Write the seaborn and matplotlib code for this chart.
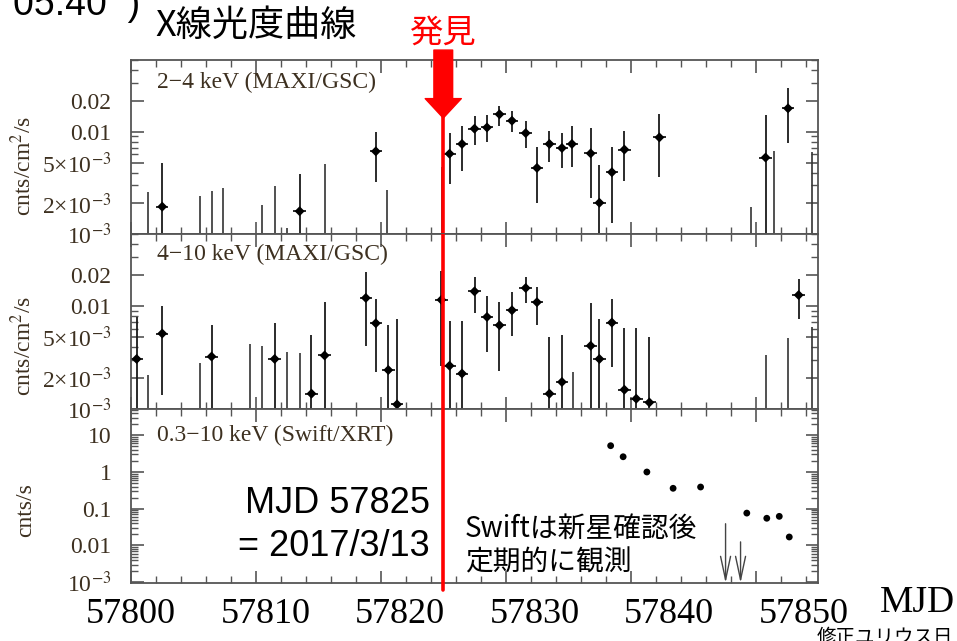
import matplotlib
matplotlib.use('Agg')
import matplotlib.pyplot as plt
from matplotlib.ticker import MultipleLocator, LogLocator, NullFormatter
import seaborn as sns
import pandas as pd
import numpy as np

# ---------------- データ ----------------
# 2-4 keV (MAXI/GSC) 検出点
mjd_24 = [57802.5, 57813.5, 57819.6, 57825.5, 57826.5, 57827.5, 57828.5, 57829.5,
          57830.5, 57831.6, 57832.5, 57833.5, 57834.5, 57835.3, 57836.8, 57837.5,
          57838.5, 57839.5, 57842.3, 57850.8, 57852.6]
rate_24 = [1.86e-3, 1.68e-3, 6.44e-3, 6.1e-3, 7.6e-3, 10.7e-3, 11.0e-3, 14.8e-3,
           12.8e-3, 9.7e-3, 4.44e-3, 7.6e-3, 6.94e-3, 7.6e-3, 6.15e-3, 2.03e-3,
           4.03e-3, 6.7e-3, 8.8e-3, 5.6e-3, 16.9e-3]
lo_24 = [1e-4, 1e-4, 3.22e-3, 3.06e-3, 4.1e-3, 7.36e-3, 7.86e-3, 11.4e-3,
         9.83e-3, 6.94e-3, 2.03e-3, 5.07e-3, 4.44e-3, 4.54e-3, 2.27e-3, 1e-4,
         1.28e-3, 3.34e-3, 3.6e-3, 1e-4, 7.7e-3]
hi_24 = [4.97e-3, 3.9e-3, 10.0e-3, 9.7e-3, 11.4e-3, 14.1e-3, 14.4e-3, 18.0e-3,
         15.8e-3, 12.6e-3, 7.1e-3, 10.07e-3, 9.7e-3, 11.3e-3, 10.9e-3, 4.78e-3,
         7.1e-3, 10.07e-3, 14.8e-3, 14.4e-3, 26.5e-3]
# 2-4 keV 範囲外の点（誤差棒の上端のみ見える）
bar_mjd_24 = [57801.4, 57805.5, 57806.5, 57807.4, 57810.5, 57811.5, 57812.5,
              57815.5, 57820.5, 57824.9, 57849.6, 57851.5, 57854.5]
bar_hi_24 = [2.61e-3, 2.39e-3, 2.63e-3, 2.84e-3, 1.91e-3, 2.94e-3, 1.16e-3,
             4.89e-3, 2.7e-3, 4.54e-3, 1.86e-3, 6.44e-3, 6.3e-3]

# 4-10 keV (MAXI/GSC)
mjd_410 = [57800.45, 57802.5, 57806.45, 57811.5, 57814.45, 57815.5, 57818.8,
           57819.6, 57820.6, 57821.3, 57824.85, 57825.5, 57826.5, 57827.5,
           57828.5, 57829.5, 57830.5, 57831.6, 57832.5, 57833.5, 57834.5,
           57836.8, 57837.5, 57838.5, 57839.5, 57840.45, 57841.5, 57853.45]
rate_410 = [3.05e-3, 5.4e-3, 3.22e-3, 3.05e-3, 1.4e-3, 3.3e-3, 12.0e-3,
            6.8e-3, 2.38e-3, 1.1e-3, 11.5e-3, 2.62e-3, 2.2e-3, 13.9e-3,
            7.83e-3, 6.5e-3, 9.1e-3, 15.0e-3, 10.9e-3, 1.4e-3, 1.82e-3,
            4.1e-3, 3.05e-3, 6.9e-3, 1.53e-3, 1.25e-3, 1.15e-3, 12.8e-3]
lo_410 = [1e-4, 1.35e-3, 1e-4, 1e-4, 1e-4, 1e-4, 4.05e-3,
          2.26e-3, 1e-4, 1e-4, 2.6e-3, 1e-4, 1e-4, 8.5e-3,
          3.56e-3, 2.34e-3, 5.1e-3, 10.6e-3, 6.5e-3, 1e-4, 1e-4,
          1e-4, 1e-4, 2.57e-3, 1e-4, 1e-4, 1e-4, 7.55e-3]
hi_410 = [7.83e-3, 10.1e-3, 6.6e-3, 6.9e-3, 5.28e-3, 11.0e-3, 21.6e-3,
          11.7e-3, 6.5e-3, 7.4e-3, 21.8e-3, 7.15e-3, 7.15e-3, 19.2e-3,
          12.4e-3, 11.0e-3, 13.7e-3, 19.2e-3, 15.3e-3, 5.0e-3, 5.28e-3,
          10.7e-3, 7.4e-3, 11.7e-3, 6.06e-3, 6.06e-3, 5.0e-3, 18.5e-3]
bar_mjd_410 = [57801.4, 57805.5, 57809.5, 57810.5, 57812.5, 57813.5, 57835.4,
               57850.8, 57852.6, 57854.5]
bar_hi_410 = [2.12e-3, 2.81e-3, 4.27e-3, 4.05e-3, 3.56e-3, 3.48e-3, 2.26e-3,
              3.3e-3, 4.9e-3, 6.3e-3]

# 0.3-10 keV (Swift/XRT)
mjd_xrt = [57838.4, 57839.4, 57841.3, 57843.4, 57845.6, 57849.3, 57850.9, 57851.9, 57852.7]
rate_xrt = [5.2, 2.6, 1.0, 0.36, 0.39, 0.076, 0.055, 0.062, 0.017]
ul_mjd_xrt = [57847.6, 57848.8]
ul_xrt = [0.039, 0.0125]

# 軸・ラベル
discovery_mjd = 57825
xlim = (57800, 57855)
xtick_vals = [57800, 57810, 57820, 57830, 57840, 57850]
maxi_ylim = (1e-3, 0.05)
maxi_ticks = [1e-3, 2e-3, 5e-3, 0.01, 0.02]
maxi_ticklabels = ['10$^{-3}$', '2×10$^{-3}$', '5×10$^{-3}$', '0.01', '0.02']
xrt_ylim = (9.5e-4, 53)
xrt_ticks = [1e-3, 0.01, 0.1, 1, 10]
xrt_ticklabels = ['10$^{-3}$', '0.01', '0.1', '1', '10']
panel_titles = ['2−4 keV (MAXI/GSC)', '4−10 keV (MAXI/GSC)', '0.3−10 keV (Swift/XRT)']

sns.set_theme(style='ticks')
plt.rcParams['font.family'] = ['Liberation Serif', 'Noto Sans CJK JP']
plt.rcParams['mathtext.fontset'] = 'stix'

lab_color = '#3d3020'
frame_color = '#555555'
jp = ['Noto Sans CJK JP', 'DejaVu Sans']

fig = plt.figure(figsize=(9.57, 6.41), dpi=100)
gs = fig.add_gridspec(3, 1, left=131 / 957, right=818 / 957,
                      bottom=58 / 641, top=581 / 641, hspace=0)
axes = gs.subplots(sharex=True)


def draw_maxi(ax, mjd, rate, lo, hi, bar_mjd, bar_hi):
    rate = np.array(rate)
    err = [rate - np.array(lo), np.array(hi) - rate]
    ax.errorbar(mjd, rate, xerr=0.5, yerr=err, fmt='none',
                ecolor='#1a1a1a', elinewidth=1.3, capsize=0)
    df = pd.DataFrame({'MJD': mjd, 'rate': rate})
    sns.scatterplot(data=df, x='MJD', y='rate', ax=ax, color='black',
                    marker='D', s=26, edgecolor='none', zorder=3)
    ax.vlines(bar_mjd, 1e-4, bar_hi, color='#333333', lw=1.2)
    ax.set_yscale('log')
    ax.set_ylim(*maxi_ylim)
    ax.set_yticks(maxi_ticks, maxi_ticklabels)


draw_maxi(axes[0], mjd_24, rate_24, lo_24, hi_24, bar_mjd_24, bar_hi_24)
draw_maxi(axes[1], mjd_410, rate_410, lo_410, hi_410, bar_mjd_410, bar_hi_410)

ax3 = axes[2]
df_xrt = pd.DataFrame({'MJD': mjd_xrt, 'rate': rate_xrt})
sns.scatterplot(data=df_xrt, x='MJD', y='rate', ax=ax3, color='black',
                marker='o', s=24, edgecolor='none', zorder=3)
ax3.set_yscale('log')
ax3.set_ylim(*xrt_ylim)
ax3.set_yticks(xrt_ticks, xrt_ticklabels)
for x, u in zip(ul_mjd_xrt, ul_xrt):
    ax3.annotate('', xy=(x, 0), xycoords=('data', 'axes fraction'),
                 xytext=(x, u), textcoords='data',
                 arrowprops=dict(arrowstyle='->,head_length=1.4,head_width=0.3',
                                 color='#444444', lw=1.0, mutation_scale=12,
                                 shrinkA=0, shrinkB=0))

label_y = [0.39, 0.36, 0.42]
title_y = [0.869, 0.884, 0.846]
ylabels = ['cnts/cm$^2$/s', 'cnts/cm$^2$/s', 'cnts/s']
for i, ax in enumerate(axes):
    ax.set_xlim(*xlim)
    ax.xaxis.set_major_locator(MultipleLocator(10))
    ax.xaxis.set_minor_locator(MultipleLocator(2))
    ax.yaxis.set_minor_locator(LogLocator(base=10, subs=np.arange(2, 10), numticks=20))
    ax.yaxis.set_minor_formatter(NullFormatter())
    ax.tick_params(which='both', direction='in', top=True, right=True,
                   color=frame_color, labelcolor=lab_color, labelsize=17, pad=14)
    ax.tick_params(which='major', length=9, width=1.2)
    ax.tick_params(which='minor', length=5, width=1.0)
    ax.tick_params(axis='x', labelbottom=False)
    for s in ax.spines.values():
        s.set_color(frame_color)
        s.set_linewidth(1.3)
    ax.set_xlabel('')
    ax.set_ylabel(ylabels[i], fontsize=17, color=lab_color)
    ax.yaxis.set_label_coords(-0.138, label_y[i])
    ax.text(0.038, title_y[i], panel_titles[i], transform=ax.transAxes,
            fontsize=17, color=lab_color, va='center', ha='left')

# 発見日の赤線と矢印
axes[0].axvline(discovery_mjd, color='red', lw=2.6, zorder=4)
axes[1].axvline(discovery_mjd, color='red', lw=2.6, zorder=4)
ax3.axvline(discovery_mjd, ymin=-0.04, ymax=1, color='red', lw=2.6, zorder=4, clip_on=False)
axes[0].annotate('', xy=(discovery_mjd, 0.667), xycoords=('data', 'axes fraction'),
                 xytext=(discovery_mjd, 1.057), textcoords=('data', 'axes fraction'),
                 arrowprops=dict(arrowstyle='simple,head_length=1.4,head_width=2.6,tail_width=1.35',
                                 color='red', mutation_scale=10, shrinkA=0, shrinkB=0),
                 annotation_clip=False, zorder=6)
axes[0].text(discovery_mjd, 1.154, '発見', transform=axes[0].get_xaxis_transform(),
             color='red', fontsize=24, family=jp, ha='center', va='center')

# 下の目盛りラベル（スライド上で貼られた位置）
sec = ax3.secondary_xaxis('bottom', functions=(lambda t: 57800 + (t - 57800) / 1.077,
                                               lambda l: 57800 + (l - 57800) * 1.077))
sec.set_xticks(xtick_vals, [str(v) for v in xtick_vals])
sec.tick_params(length=0, labelsize=26, labelcolor='black', pad=11)
for lab in sec.get_xticklabels():
    lab.set_fontfamily(['Liberation Serif'])
sec.spines['bottom'].set_visible(False)

# 注釈テキスト
ax3.text(0.435, 0.334, 'MJD 57825\n= 2017/3/13', transform=ax3.transAxes,
         fontsize=26, family=['Liberation Sans'], ha='right', va='center',
         multialignment='right', linespacing=1.3, color='black')
ax3.text(0.486, 0.214, 'Swiftは新星確認後\n定期的に観測', transform=ax3.transAxes,
         fontsize=20, family=jp, ha='left', va='center', linespacing=1.15, color='black')

fig.text(155 / 957, 1 - 26 / 641, 'X線光度曲線', fontsize=26, family=jp,
         ha='left', va='center', color='black')
fig.text(917 / 957, 1 - 603 / 641, 'MJD', fontsize=27, ha='center', va='center',
         family=['Liberation Serif'], color='black')
fig.text(817 / 957, 1 - 627 / 641, '修正ユリウス日', fontsize=14, family=jp,
         ha='left', va='top', color='black')
fig.text(140 / 957, 1 - 15 / 641, '05.40  )', fontsize=27, family=['Liberation Sans'],
         ha='right', va='baseline', color='black')

fig.savefig('out.png', dpi=100)
